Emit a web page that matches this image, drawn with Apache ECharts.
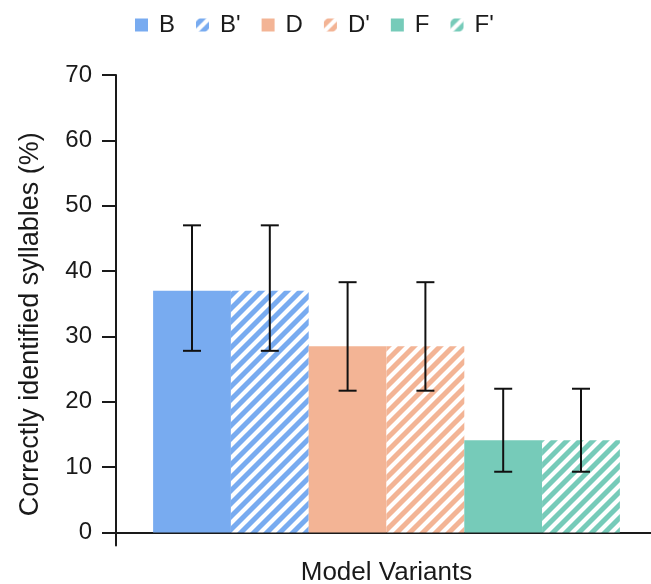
<!DOCTYPE html>
<html>
<head>
<meta charset="utf-8">
<script src="https://cdn.jsdelivr.net/npm/echarts@6/dist/echarts.min.js"></script>
<style>
html,body{margin:0;padding:0;background:#fff;}
#chart{width:651px;height:584px;}
</style>
</head>
<body>
<div id="chart"></div>
<script>
const categories = ['Model Variants'];
const seriesNames = ['B', "B'", 'D', "D'", 'F', "F'"];
const means = [37.0, 37.0, 28.5, 28.5, 14.1, 14.1];
const lows = [27.8, 27.8, 21.7, 21.7, 9.3, 9.3];
const highs = [47.0, 47.0, 38.3, 38.3, 22.0, 22.0];
const yTicks = [0, 10, 20, 30, 40, 50, 60, 70];
const hatched = [false, true, false, true, false, true];
const baseColors = ['#78abf0', '#78abf0', '#f3b495', '#f3b495', '#76cbb9', '#76cbb9'];

const FONT = 'Liberation Sans, Arial, sans-serif';
const TXT = '#1a1a1a';
const BAR_FRAC = 0.1438;

function makeHatch(color, p, w) {
  const c = document.createElement('canvas');
  c.width = p; c.height = p;
  const ctx = c.getContext('2d');
  ctx.fillStyle = color;
  ctx.fillRect(0, 0, p, p);
  ctx.strokeStyle = '#ffffff';
  ctx.lineWidth = w;
  ctx.beginPath();
  ctx.moveTo(-3, p + 3); ctx.lineTo(p + 3, -3);
  ctx.moveTo(-4, 4); ctx.lineTo(4, -4);
  ctx.moveTo(p - 4, p + 4); ctx.lineTo(p + 4, p - 4);
  ctx.stroke();
  return { image: c, repeat: 'repeat' };
}

const chart = echarts.init(document.getElementById('chart'), null, { renderer: 'canvas' });

const barSeries = seriesNames.map((name, i) => ({
  name: name,
  type: 'bar',
  barWidth: (BAR_FRAC * 100) + '%',
  barGap: '0%',
  itemStyle: { color: hatched[i] ? makeHatch(baseColors[i], 13, 4.2) : baseColors[i] },
  data: [means[i]],
  z: 2
}));

const errData = seriesNames.map((n, i) => [0, lows[i], highs[i], i]);

const errSeries = {
  type: 'custom',
  name: 'err',
  data: errData,
  encode: { x: 0, y: [1, 2] },
  z: 10,
  renderItem: function (params, api) {
    const idx = api.value(3);
    const band = api.size([1, 0])[0];
    const bw = band * BAR_FRAC;
    const cx = api.coord([0, 0])[0] + (idx - 2.5) * bw;
    const yl = api.coord([0, api.value(1)])[1];
    const yh = api.coord([0, api.value(2)])[1];
    const hw = 9;
    const st = { stroke: '#111', lineWidth: 2 };
    return {
      type: 'group',
      children: [
        { type: 'line', shape: { x1: cx, y1: yl, x2: cx, y2: yh }, style: st },
        { type: 'line', shape: { x1: cx - hw, y1: yh, x2: cx + hw, y2: yh }, style: st },
        { type: 'line', shape: { x1: cx - hw, y1: yl, x2: cx + hw, y2: yl }, style: st }
      ]
    };
  }
};

const option = {
  animation: false,
  backgroundColor: '#fff',
  textStyle: { fontFamily: FONT },
  legend: {
    data: seriesNames,
    left: 130,
    top: 8,
    icon: 'rect',
    itemWidth: 13,
    itemHeight: 13,
    itemGap: 21,
    textStyle: { fontSize: 24, color: TXT, fontFamily: FONT, padding: [0, 0, 0, 6] }
  },
  grid: { left: 116, right: -6, top: 75, bottom: 38.4, outerBoundsMode: 'none' },
  xAxis: {
    type: 'category',
    data: categories,
    axisLine: { show: true, onZero: true, lineStyle: { color: TXT, width: 2 } },
    axisTick: { show: false },
    axisLabel: { show: false },
    splitLine: { show: false },
    name: 'Model Variants',
    nameLocation: 'middle',
    nameGap: 14,
    nameTextStyle: { fontSize: 26, color: TXT, fontFamily: FONT }
  },
  yAxis: {
    type: 'value',
    min: -2,
    max: 70,
    axisLine: { show: true, lineStyle: { color: TXT, width: 2 } },
    axisTick: { show: true, customValues: yTicks, length: 14, lineStyle: { color: TXT, width: 2 } },
    axisLabel: { customValues: yTicks, margin: 24, fontSize: 24, color: TXT, fontFamily: FONT },
    splitLine: { show: false },
    name: 'Correctly identified syllables (%)',
    nameLocation: 'middle',
    nameGap: 72,
    nameTextStyle: { fontSize: 27, color: TXT, fontFamily: FONT, padding: [0, 28, 0, 0] }
  },
  series: barSeries.concat([errSeries])
};

chart.setOption(option);
</script>
</body>
</html>
